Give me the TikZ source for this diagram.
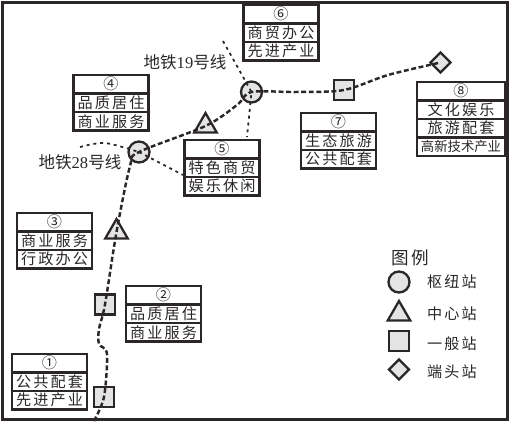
\documentclass[tikz,border=0pt]{standalone}
\usepackage{fontspec}
\setmainfont{Liberation Serif}
\newfontfamily\cjk[LetterSpace=14]{Noto Sans CJK SC}
\newfontfamily\cjktight{Noto Sans CJK SC}
\usepackage{tikz}
\usetikzlibrary{positioning,shapes.geometric}
\definecolor{inkline}{HTML}{2B2727}
\definecolor{stnfill}{HTML}{E4E4E4}
\tikzset{
  frameln/.style  = {draw=inkline,line width=1.4pt},
  cellbox/.style  = {draw=inkline,line width=1.3pt,fill=white,minimum width=1.5cm,
                     minimum height=0.37cm,inner sep=0pt,outer sep=0pt,
                     text=inkline,font=\fontsize{8.6}{10}\selectfont\cjk},
  hubstn/.style   = {circle,draw=inkline,line width=1.3pt,fill=stnfill,
                     minimum size=0.42cm,inner sep=0pt},
  midstn/.style   = {regular polygon,regular polygon sides=3,draw=inkline,
                     line width=1.3pt,fill=stnfill,minimum size=0.52cm,inner sep=0pt},
  genstn/.style   = {rectangle,draw=inkline,line width=1.3pt,fill=stnfill,
                     minimum size=0.40cm,inner sep=0pt},
  endstn/.style   = {diamond,draw=inkline,line width=1.3pt,fill=stnfill,
                     minimum size=0.42cm,inner sep=0pt},
  mainln/.style   = {draw=inkline,line width=1.4pt,dash pattern=on 2.8pt off 1.5pt},
  branchln/.style = {draw=inkline,line width=1pt,dash pattern=on 1.7pt off 2.2pt},
  linelbl/.style  = {text=inkline,inner sep=0pt,font=\fontsize{9.4}{11}\selectfont},
  keylbl/.style   = {text=inkline,inner sep=0pt,font=\fontsize{8.6}{10}\selectfont\cjk},
}
\newcommand{\funcbox}[6]{%
  \node[cellbox,anchor=north] (#1-top) at (#2,#3) {#4};
  \node[cellbox,below=0pt of #1-top] (#1-a) {#5};
  \node[cellbox,below=0pt of #1-a] (#1-b) {#6};
}
\begin{document}
\begin{tikzpicture}[x=0.02cm,y=-0.02cm]
  \useasboundingbox (0,0) rectangle (511,424);
  \draw[frameln] (2.5,2.5) rectangle (507.5,419.5);

  % stations
  \node[genstn] (gen1) at (104,397) {};
  \node[genstn] (gen2) at (105,304.5) {};
  \node[midstn] (mid1) at (116.5,232) {};
  \node[hubstn] (hub1) at (139,152) {};
  \node[midstn] (mid2) at (205.5,126) {};
  \node[hubstn] (hub2) at (251.5,92) {};
  \node[genstn] (gen3) at (344,90) {};
  \node[endstn] (end1) at (440.5,62.5) {};

  % lines
  \coordinate (lnfoot) at (94,421);
  \coordinate (bnda) at (107,354);
  \coordinate (bndb) at (99,344);
  \coordinate (bndc) at (99,329);
  \coordinate (bndd) at (130,166);
  \coordinate (bnde) at (237,105);
  \coordinate (bndf) at (296,92);
  \coordinate (bndg) at (388,75);
  \draw[mainln] plot[smooth,tension=0.5] coordinates {(lnfoot) (gen1) (bnda) (bndb)
    (bndc) (gen2) (mid1) (bndd) (hub1) (mid2) (bnde) (hub2) (bndf) (gen3) (bndg) (end1)};
  \coordinate (l19a) at (223,41);
  \coordinate (l19b) at (247,137);
  \draw[branchln] (l19a) -- (hub2.center) -- (l19b);
  \coordinate (l28a) at (80,147);
  \coordinate (l28b) at (105,143);
  \coordinate (l28c) at (183,175);
  \draw[branchln] plot[smooth,tension=0.5] coordinates {(l28a) (l28b) (hub1)};
  \draw[branchln] (hub1.center) -- (l28c);

  % function boxes
  \funcbox{boxa}{49.5}{354}{①}{公共配套}{先进产业}
  \funcbox{boxb}{163.5}{286}{②}{品质居住}{商业服务}
  \funcbox{boxc}{54.5}{213}{③}{商业服务}{行政办公}
  \funcbox{boxd}{111}{75}{④}{品质居住}{商业服务}
  \funcbox{boxe}{222}{140}{⑤}{特色商贸}{娱乐休闲}
  \funcbox{boxf}{281}{5}{⑥}{商贸办公}{先进产业}
  \funcbox{boxg}{338.5}{113}{⑦}{生态旅游}{公共配套}
  \begin{scope}[cellbox/.append style={minimum width=1.76cm}]
    \funcbox{boxh}{461}{82}{⑧}{文化娱乐}{旅游配套}
    \node[cellbox,font=\fontsize{7.6}{10}\selectfont\cjktight,below=0pt of boxh-b] (boxh-c) {高新技术产业};
  \end{scope}

  \node[linelbl] (lbl19) at (185,62) {{\cjktight 地铁}19{\cjktight 号线}};
  \node[linelbl] (lbl28) at (80,162) {{\cjktight 地铁}28{\cjktight 号线}};

  % legend
  \node[keylbl,font=\fontsize{10}{12}\selectfont\cjk] (keyttl) at (410,258) {图例};
  \node[hubstn] (keyhub) at (399,282) {};
  \node[midstn] (keymid) at (399,314) {};
  \node[genstn] (keygen) at (399,341) {};
  \node[endstn] (keyend) at (399,369.5) {};
  \node[keylbl] at (452,282) (keyhubl) {枢纽站};
  \node[keylbl] at (452,314) (keymidl) {中心站};
  \node[keylbl] at (452,344) (keygenl) {一般站};
  \node[keylbl] at (452,372) (keyendl) {端头站};
\end{tikzpicture}
\end{document}
